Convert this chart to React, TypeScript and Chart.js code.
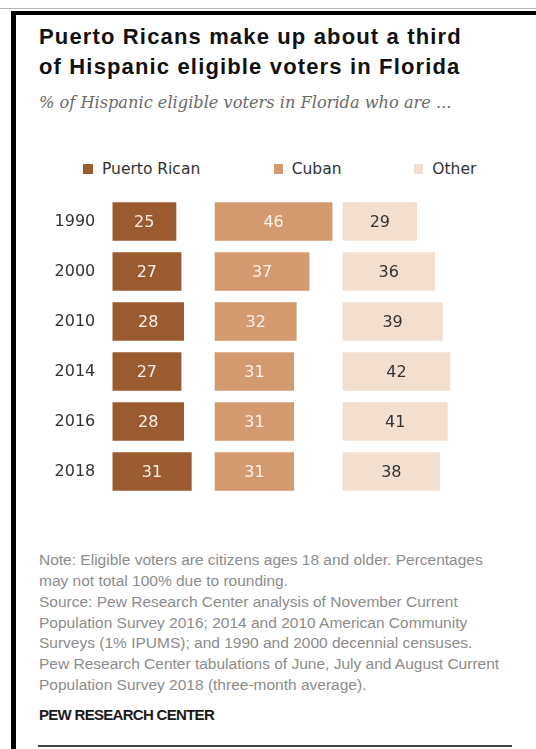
import React, { useEffect, useRef } from 'react';
import { Chart, registerables } from 'chart.js';

Chart.register(...registerables);

// ---- Data ----
const years = ['1990', '2000', '2010', '2014', '2016', '2018'];
const puertoRican = [25, 27, 28, 27, 28, 31];
const cuban = [46, 37, 32, 31, 31, 31];
const other = [29, 36, 39, 42, 41, 38];
const seriesNames = ['Puerto Rican', 'Cuban', 'Other'];

// ---- Styles / layout ----
const seriesColors = ['#9b5b31', '#d49a6f', '#f2dfd0'];
const labelColors = ['#f8efe7', '#fbf3ec', '#333333'];
const panelStart = [0, 40, 90];
const allSeries = [puertoRican, cuban, other];

const footLines = [
  'Note: Eligible voters are citizens ages 18 and older. Percentages',
  'may not total 100% due to rounding.',
  'Source: Pew Research Center analysis of November Current',
  'Population Survey 2016; 2014 and 2010 American Community',
  'Surveys (1% IPUMS); and 1990 and 2000 decennial censuses.',
  'Pew Research Center tabulations of June, July and August Current',
  'Population Survey 2018 (three-month average).',
];

const barLabels = {
  id: 'barLabels',
  afterDatasetsDraw(chart: any) {
    const ctx = chart.ctx;
    ctx.save();
    ctx.font = '16px "DejaVu Sans"';
    ctx.textAlign = 'center';
    ctx.textBaseline = 'alphabetic';
    allSeries.forEach((vals, i) => {
      const meta = chart.getDatasetMeta(i);
      ctx.fillStyle = labelColors[i];
      meta.data.forEach((el: any, j: number) => {
        const p = el.getProps(['x', 'y', 'base'], true);
        ctx.fillText(String(vals[j]), (p.x + p.base) / 2, p.y + 5.8);
      });
    });
    ctx.restore();
  },
};

function BarChart() {
  const ref = useRef<HTMLCanvasElement | null>(null);
  useEffect(() => {
    if (!ref.current) return;
    const chart = new Chart(ref.current, {
      type: 'bar',
      data: {
        labels: years,
        datasets: allSeries.map((vals, i) => ({
          label: seriesNames[i],
          data: vals.map((v) => [panelStart[i], panelStart[i] + v]),
          backgroundColor: seriesColors[i],
          borderWidth: 0,
          grouped: false,
          barPercentage: 0.77,
          categoryPercentage: 1,
        })) as any,
      },
      options: {
        indexAxis: 'y',
        animation: false,
        responsive: false,
        maintainAspectRatio: false,
        layout: { padding: { left: 0, right: 65.3, top: 6.6, bottom: 13.6 } },
        plugins: {
          legend: { display: false },
          tooltip: { enabled: false },
        },
        scales: {
          x: { type: 'linear', min: 0, max: 140, display: false },
          y: {
            type: 'category',
            grid: { display: false, drawTicks: false },
            border: { display: false },
            ticks: {
              color: '#333333',
              font: { family: '"DejaVu Sans"', size: 16 },
              padding: 17,
            },
            afterFit: (scale: any) => {
              scale.width = 112.3;
              scale.paddingTop = 0;
              scale.paddingBottom = 0;
            },
          },
        },
      } as any,
      plugins: [barLabels],
    });
    return () => chart.destroy();
  }, []);
  return (
    <canvas
      ref={ref}
      width={536}
      height={320}
      style={{ position: 'absolute', left: 0, top: 190, width: 536, height: 320 }}
    />
  );
}

export default function App() {
  const legendSquares = [83, 273.5, 413.5];
  const legendTexts = [102, 291.7, 432.3];
  return (
    <div
      style={{
        position: 'absolute',
        left: 0,
        top: 0,
        width: 536,
        height: 749,
        background: '#ffffff',
        overflow: 'hidden',
      }}
    >
      {/* frame */}
      <div style={{ position: 'absolute', left: 0, top: 8, width: 536, height: 1, background: '#b5b5b5' }} />
      <div style={{ position: 'absolute', left: 11, top: 10.5, width: 525, height: 4, background: '#000' }} />
      <div style={{ position: 'absolute', left: 11, top: 10.5, width: 5, height: 739, background: '#000' }} />

      {/* title */}
      <div
        style={{
          position: 'absolute',
          left: 39,
          top: 21.7,
          fontFamily: '"Liberation Sans", Arial, sans-serif',
          fontWeight: 700,
          fontSize: 22,
          lineHeight: '30px',
          letterSpacing: '1.15px',
          color: '#111',
          whiteSpace: 'nowrap',
        }}
      >
        Puerto Ricans make up about a third
        <br />
        of Hispanic eligible voters in Florida
      </div>

      {/* subtitle */}
      <div
        style={{
          position: 'absolute',
          left: 39,
          top: 92.7,
          fontFamily: '"DejaVu Serif", serif',
          fontStyle: 'italic',
          fontSize: 16.2,
          lineHeight: '20px',
          color: '#6a6a6a',
          whiteSpace: 'nowrap',
        }}
      >
        % of Hispanic eligible voters in Florida who are ...
      </div>

      {/* legend */}
      {seriesNames.map((name, i) => (
        <React.Fragment key={name}>
          <div
            style={{
              position: 'absolute',
              left: legendSquares[i],
              top: 164.3,
              width: 9.5,
              height: 9.5,
              background: seriesColors[i],
            }}
          />
          <div
            style={{
              position: 'absolute',
              left: legendTexts[i],
              top: 158.6,
              fontFamily: '"DejaVu Sans", sans-serif',
              fontSize: 15.5,
              lineHeight: '20px',
              color: '#333',
              whiteSpace: 'nowrap',
            }}
          >
            {name}
          </div>
        </React.Fragment>
      ))}

      <BarChart />

      {/* footnote */}
      <div
        style={{
          position: 'absolute',
          left: 39,
          top: 550.2,
          fontFamily: '"Liberation Sans", Arial, sans-serif',
          fontSize: 15.5,
          lineHeight: '20.8px',
          color: '#8c8c8c',
          whiteSpace: 'nowrap',
        }}
      >
        {footLines.map((l, i) => (
          <div key={i}>{l}</div>
        ))}
      </div>

      <div
        style={{
          position: 'absolute',
          left: 39,
          top: 704.8,
          fontFamily: '"Liberation Sans", Arial, sans-serif',
          fontWeight: 700,
          fontSize: 15,
          lineHeight: '20px',
          letterSpacing: '-0.7px',
          color: '#1a1a1a',
          whiteSpace: 'nowrap',
        }}
      >
        PEW RESEARCH CENTER
      </div>

      <div style={{ position: 'absolute', left: 38, top: 745, width: 474, height: 2, background: '#444' }} />
    </div>
  );
}
